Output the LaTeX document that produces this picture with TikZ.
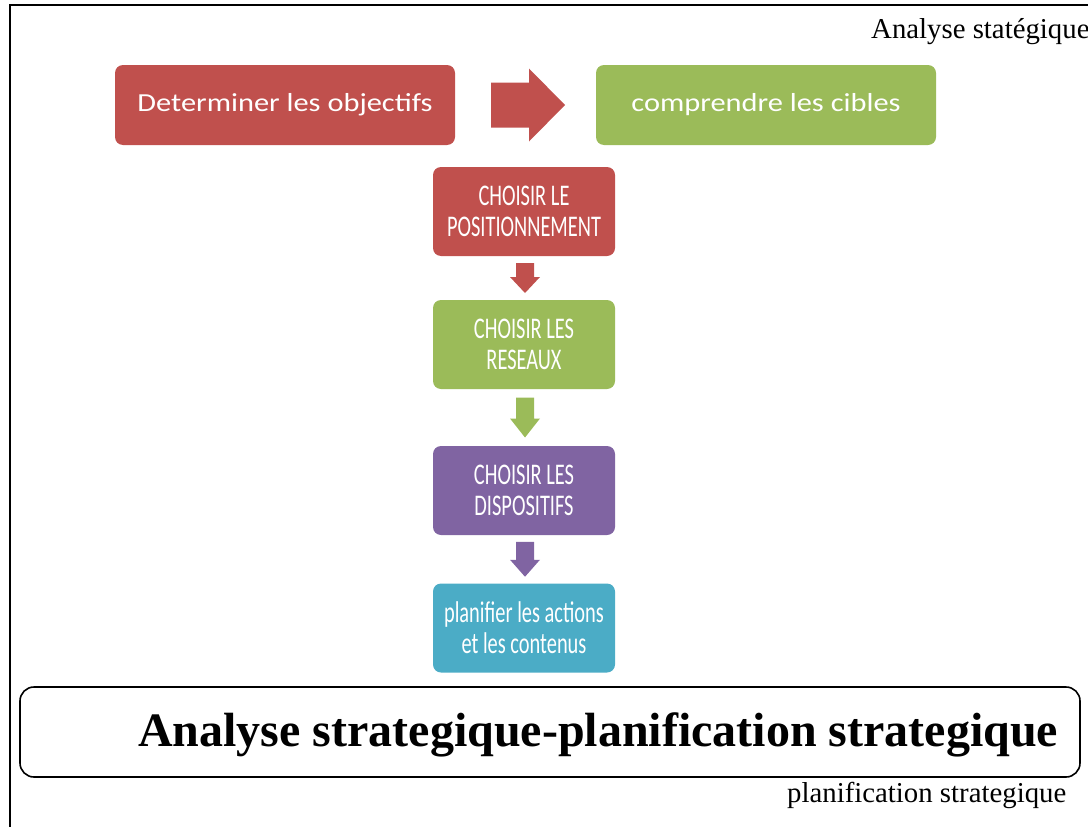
\documentclass[tikz,border=0pt]{standalone}
\usepackage{fontspec}
\setmainfont{Liberation Serif}
\newfontfamily\boxfont[FakeStretch=1.17]{Carlito}
\newfontfamily\narrowfont[FakeStretch=0.68]{Carlito}
\usetikzlibrary{calc}

\definecolor{tred}{HTML}{C0504D}
\definecolor{tgreen}{HTML}{9BBB59}
\definecolor{tpurple}{HTML}{8064A2}
\definecolor{tteal}{HTML}{4BACC6}

\tikzset{
  widebox/.style={rounded corners=8pt, minimum width=340pt, minimum height=80pt,
    inner sep=0pt, text=white, font=\boxfont\fontsize{26}{30}\selectfont},
  tallbox/.style={rounded corners=8pt, minimum width=182pt, minimum height=89pt,
    inner sep=0pt, text=white, align=center,
    font=\narrowfont\fontsize{30}{31}\selectfont},
  plainlabel/.style={anchor=base west, inner sep=0pt, font=\fontsize{28.8}{31}\selectfont},
  pics/rightblock/.style={code={
    \fill (-37,-22.5) -- (1,-22.5) -- (1,-36.5) -- (37,0) -- (1,36.5)
          -- (1,22.5) -- (-37,22.5) -- cycle;}},
  pics/downblock/.style 2 args={code={
    \fill (-9,{-#1/2}) -- (9,{-#1/2}) -- (9,{#1/2-#2}) -- (15,{#1/2-#2})
          -- (0,{#1/2}) -- (-15,{#1/2-#2}) -- (-9,{#1/2-#2}) -- cycle;}}
}

\begin{document}
\begin{tikzpicture}[x=1pt,y=-1pt]
\useasboundingbox (0,0) rectangle (1088,827);

% outer frame (top and left edges)
\draw[line width=2pt] (9.5,827) -- (9.5,5) -- (1088,5);

\node[plainlabel] (toplabel) at (871,38) {Analyse statégique};

% first row
\node[widebox, fill=tred] (obj) at (285,105) {Determiner les objectifs};
\node[widebox, fill=tgreen] (cib) at (766,105) {comprendre les cibles};
\path ($(obj.east)!0.5!(cib.west)$) ++(2.5,0) pic[fill=tred] {rightblock};

% vertical chain
\node[tallbox, fill=tred]    (pos) at (524,211.5) {CHOISIR LE\\POSITIONNEMENT};
\node[tallbox, fill=tgreen]  (res) at (524,344.5) {CHOISIR LES\\RESEAUX};
\node[tallbox, fill=tpurple] (dis) at (524,490.5) {CHOISIR LES\\DISPOSITIFS};
\node[tallbox, fill=tteal]   (pla) at (524,628)   {planifier les actions\\et les contenus};

\path ($(pos.south)!0.5!(res.north)$) ++(1,0) pic[fill=tred]    {downblock={30}{16}};
\path ($(res.south)!0.5!(dis.north)$) ++(1,0) pic[fill=tgreen]  {downblock={40}{19}};
\path ($(dis.south)!0.5!(pla.north)$) ++(1,0) pic[fill=tpurple] {downblock={35}{17}};

% title box
\node[draw, line width=1.6pt, rounded corners=14pt, minimum width=1060pt,
      minimum height=90pt, inner sep=0pt] (titlebox) at (550,732) {};
\node[anchor=base west, inner sep=0pt, font=\bfseries\fontsize{48}{50}\selectfont]
  (title) at (138,746) {Analyse strategique-planification strategique};

\node[plainlabel] (botlabel) at (787,802) {planification strategique};
\end{tikzpicture}
\end{document}
